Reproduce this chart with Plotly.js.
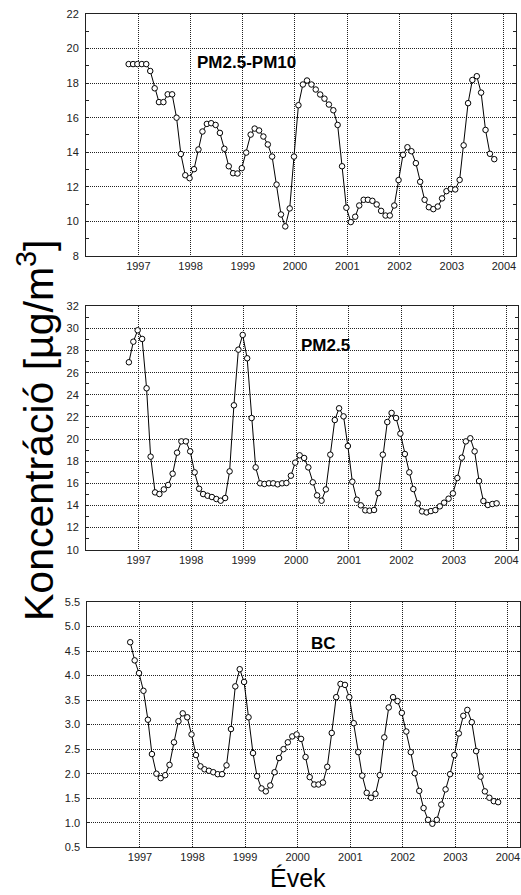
<!DOCTYPE html>
<html><head><meta charset="utf-8">
<script src="https://cdn.plot.ly/plotly-3.0.1.min.js"></script>
<style>html,body{margin:0;padding:0;background:#fff}#chart{width:521px;height:895px}</style>
</head><body><div id="chart"></div><script>
// Monthly series, Oct 1996 .. Oct 2003
const startYear = 1996, startMonth = 10, dayOfMonth = 25, nMonths = 85;

const coarsePM = [19.1,19.1,19.1,19.1,19.1,18.7,17.7,16.9,16.9,17.35,17.35,16.0,13.9,12.67,12.5,13.02,14.16,15.2,15.64,15.68,
  15.58,15.12,14.2,13.19,12.79,12.77,13.08,13.98,15.02,15.37,15.26,14.91,14.45,13.75,12.13,10.4,9.71,10.75,13.75,16.72,
  17.92,18.15,17.92,17.63,17.34,17.1,16.76,16.43,15.58,13.19,10.79,9.96,10.27,10.92,11.25,11.25,11.19,10.98,10.61,10.34,
  10.34,10.92,12.39,13.85,14.29,14.06,13.37,12.29,11.25,10.82,10.71,10.86,11.33,11.75,11.88,11.85,12.4,14.4,16.84,18.18,
  18.4,17.45,15.29,13.91,13.6];

const finePM = [26.94,28.8,29.83,29.05,24.59,18.41,15.18,15.03,15.45,15.85,16.87,18.77,19.79,19.79,18.89,16.99,15.51,15.03,14.88,14.76,
  14.58,14.43,14.67,17.08,23.05,28.08,29.41,27.3,21.9,17.44,16.0,15.94,16.0,16.0,15.91,16.0,16.03,16.69,17.87,18.53,
  18.29,17.44,16.09,14.91,14.43,15.45,18.59,21.72,22.78,22.05,19.37,16.15,14.52,14.01,13.56,13.53,13.59,15.12,18.59,21.54,
  22.36,21.9,20.49,18.65,16.99,15.48,14.19,13.46,13.37,13.49,13.58,13.92,14.25,14.61,15.09,16.48,18.32,19.79,20.07,18.89,
  16.21,14.4,14.04,14.13,14.19];

const blackCarbon = [4.68,4.31,4.05,3.69,3.10,2.40,2.0,1.91,1.97,2.18,2.64,3.07,3.23,3.15,2.80,2.38,2.15,2.09,2.06,2.03,
  1.99,1.99,2.17,2.91,3.78,4.13,3.87,3.15,2.42,1.95,1.70,1.64,1.76,2.03,2.32,2.50,2.64,2.76,2.80,2.71,
  2.34,1.93,1.78,1.78,1.82,2.14,2.83,3.56,3.83,3.81,3.56,3.03,2.44,1.96,1.61,1.51,1.59,1.97,2.74,3.35,
  3.56,3.48,3.24,2.86,2.44,2.01,1.65,1.30,1.06,0.98,1.06,1.37,1.68,1.99,2.38,2.82,3.18,3.30,3.05,2.46,
  1.94,1.64,1.51,1.44,1.42];

const yearLabels = ['1997','1998','1999','2000','2001','2002','2003','2004'];
const panelNames = ['PM2.5-PM10','PM2.5','BC'];

const dates = [];
for (let i = 0; i < nMonths; i++) {
  const m = startMonth - 1 + i;
  const y = startYear + Math.floor(m / 12);
  const mm = String(m % 12 + 1).padStart(2, '0');
  dates.push(y + '-' + mm + '-' + dayOfMonth);
}
const tickDates = yearLabels.map(y => y + '-01-01');

function trace(vals, xa, ya) {
  return {x: dates, y: vals, xaxis: xa, yaxis: ya, type: 'scatter', mode: 'lines+markers',
    line: {color: '#000', width: 1},
    marker: {symbol: 'circle', size: 5.5, color: '#fff', line: {color: '#000', width: 1}},
    hoverinfo: 'skip', showlegend: false};
}

const font = 'Liberation Sans, Arial, sans-serif';
function xAxis(domain, anchor) {
  return {domain: domain, anchor: anchor, type: 'date', range: ['1996-01-01', '2004-03-25'],
    tickvals: tickDates, ticktext: yearLabels, showgrid: true, gridcolor: '#222', griddash: '1px,1px', gridwidth: 1,
    showline: true, mirror: true, linecolor: '#222', linewidth: 1, ticks: '', zeroline: false,
    tickfont: {family: font, size: 11, color: '#222'}, fixedrange: true};
}
function yAxis(domain, anchor, range, dtick, fmt, minor) {
  const a = {domain: domain, anchor: anchor, range: range, dtick: dtick, tick0: range[0], tickformat: fmt,
    showgrid: true, gridcolor: '#222', griddash: '1px,1px', gridwidth: 1,
    showline: true, mirror: 'ticks', linecolor: '#222', linewidth: 1, ticks: 'inside', ticklen: 3, tickcolor: '#222',
    zeroline: false, ticklabelstandoff: 4,
    tickfont: {family: font, size: 11, color: '#222'}, fixedrange: true};
  if (minor) a.minor = {dtick: dtick / 2, ticks: 'inside', ticklen: 3, tickcolor: '#222', showgrid: false};
  return a;
}

const data = [trace(coarsePM, 'x', 'y'), trace(finePM, 'x2', 'y2'), trace(blackCarbon, 'x3', 'y3')];

function note(text, px, py, size, extra) {
  return Object.assign({text: text, xref: 'paper', yref: 'paper', x: px / 521, y: 1 - py / 895,
    xanchor: 'center', yanchor: 'middle', showarrow: false, font: {family: font, size: size, color: '#000'}}, extra || {});
}

const layout = {
  width: 521, height: 895, margin: {l: 0, r: 0, t: 0, b: 0},
  paper_bgcolor: '#fff', plot_bgcolor: '#fff',
  xaxis: xAxis([0.1651, 0.9904], 'y'),
  yaxis: yAxis([0.7140, 0.9844], 'x', [8, 22], 2, 'd', true),
  xaxis2: xAxis([0.1651, 0.9952], 'y2'),
  yaxis2: yAxis([0.3858, 0.6578], 'x2', [10, 32], 2, 'd', true),
  xaxis3: xAxis([0.1676, 0.9981], 'y3'),
  yaxis3: yAxis([0.0533, 0.3274], 'x3', [0.5, 5.5], 0.5, '.1f', false),
  annotations: [
    note('<b>' + panelNames[0] + '</b>', 246, 63, 17),
    note('<b>' + panelNames[1] + '</b>', 325.5, 345, 17),
    note('<b>' + panelNames[2] + '</b>', 323, 643, 17),
    note('Koncentráció [µg/m<sup>3</sup>]', 36, 431, 41, {textangle: -90}),
    note('Évek', 298, 878, 25)
  ]
};

Plotly.newPlot('chart', data, layout, {staticPlot: true, displayModeBar: false});
</script></body></html>
